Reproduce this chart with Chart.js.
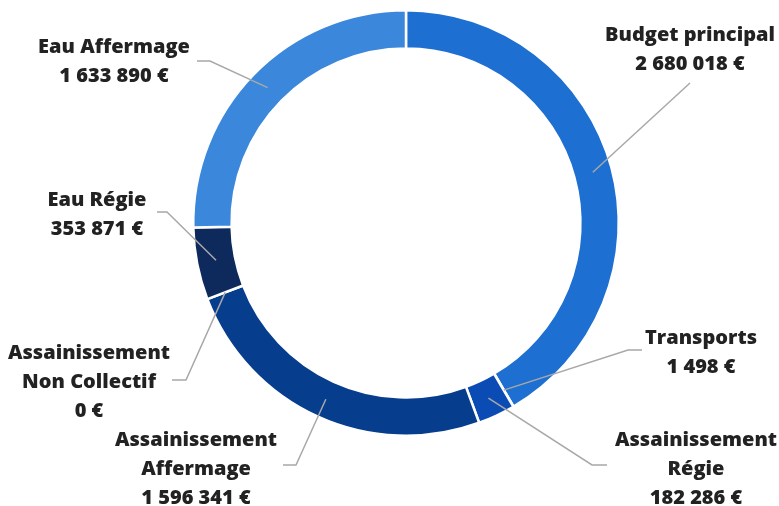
<!DOCTYPE html>
<html>
<head>
<meta charset="utf-8">
<script src="https://cdn.jsdelivr.net/npm/chart.js@4"></script>
<style>
  html, body { margin: 0; padding: 0; background: #fff; }
  #wrap { width: 779px; height: 506px; position: relative; }
</style>
</head>
<body>
<div id="wrap"><canvas id="budgetChart"></canvas></div>
<script>
// data, clockwise from the top
const categories = [
  ['Budget principal'],
  ['Transports'],
  ['Assainissement', 'Régie'],
  ['Assainissement', 'Affermage'],
  ['Assainissement', 'Non Collectif'],
  ['Eau Régie'],
  ['Eau Affermage']
];
const amounts = [2680018, 1498, 182286, 1596341, 0, 353871, 1633890];
const sliceColors = ['#1d6fd2', '#2a79d8', '#0a4bb4', '#063d8c', '#1a3f7a', '#0e2a5c', '#3b87db'];

// where each label sits: text centre x, first line y, leader start and elbow
const labelLayout = [
  { x: 690, y: 35, start: [690, 83], elbow: null },
  { x: 701, y: 338, start: [642, 350], elbow: [628, 350] },
  { x: 696, y: 440, start: [607, 465], elbow: [592, 465] },
  { x: 196, y: 440, start: [283, 465], elbow: [296, 465] },
  { x: 89, y: 353, start: [172, 380], elbow: [186, 380] },
  { x: 97, y: 200, start: [157, 212], elbow: [167, 212] },
  { x: 114, y: 47, start: [197, 61], elbow: [210, 61] }
];

function euros(v) {
  return String(v).replace(/\B(?=(\d{3})+(?!\d))/g, ' ') + ' €';
}

const outsideLabels = {
  id: 'outsideLabels',
  afterDatasetsDraw(chart) {
    const ctx = chart.ctx;
    const arcs = chart.getDatasetMeta(0).data;
    ctx.save();
    arcs.forEach((arc, i) => {
      const lay = labelLayout[i];
      const p = arc.tooltipPosition();
      ctx.beginPath();
      ctx.strokeStyle = '#a8a8a8';
      ctx.lineWidth = 1.5;
      ctx.moveTo(lay.start[0], lay.start[1]);
      if (lay.elbow) ctx.lineTo(lay.elbow[0], lay.elbow[1]);
      ctx.lineTo(p.x, p.y);
      ctx.stroke();

      const lines = categories[i].concat([euros(amounts[i])]);
      ctx.fillStyle = '#222222';
      ctx.font = '800 20px "Open Sans"';
      ctx.textAlign = 'center';
      ctx.textBaseline = 'middle';
      lines.forEach((t, k) => ctx.fillText(t, lay.x, lay.y + k * 29));
    });
    ctx.restore();
  }
};

new Chart(document.getElementById('budgetChart'), {
  type: 'doughnut',
  data: {
    labels: categories.map(c => c.join(' ')),
    datasets: [{
      data: amounts,
      backgroundColor: sliceColors,
      borderColor: '#ffffff',
      borderWidth: 2.5
    }]
  },
  options: {
    responsive: true,
    maintainAspectRatio: false,
    animation: false,
    cutout: '82%',
    layout: { padding: { top: 9, bottom: 69, left: 150, right: 117 } },
    plugins: {
      legend: { display: false },
      tooltip: { enabled: false }
    }
  },
  plugins: [outsideLabels]
});
</script>
</body>
</html>
